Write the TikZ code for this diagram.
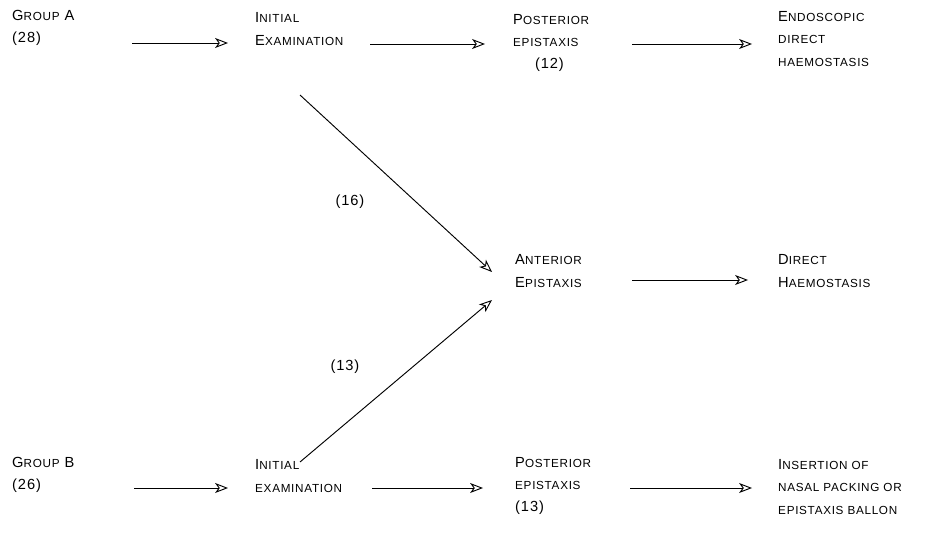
\documentclass[tikz,border=0pt]{standalone}
\usepackage{fontspec}
\setmainfont{Liberation Sans}[LetterSpace=6]
\usetikzlibrary{arrows.meta, calc}

% first letter large, the rest in smaller capitals
\newcommand\capsm[2]{#1{\fontsize{10}{12}\selectfont #2}}

\begin{document}
\begin{tikzpicture}[
  x=0.03cm, y=-0.03cm,
  lbl/.style={anchor=west, inner sep=0pt, align=left,
              font=\fontsize{12.5}{19}\selectfont},
  num/.style={inner sep=0pt, font=\fontsize{12.5}{19}\selectfont},
  arr/.style={-{Stealth[open, length=11pt, width=8.5pt, inset=3pt]}, line width=0.8pt}
]
  \useasboundingbox (0,0) rectangle (933,539);

  % top row: group A
  \node[lbl] (grpA) at (12,28) {\capsm{G}{ROUP} A\\(28)};
  \node[lbl] (initA) at (255,29) {\capsm{I}{NITIAL}\\\capsm{E}{XAMINATION}};
  \node[lbl] (postA) at (513,43) {\capsm{P}{OSTERIOR}\\\capsm{}{EPISTAXIS}\\\hspace*{1.5em}(12)};
  \node[lbl] (endo) at (778,39) {\capsm{E}{NDOSCOPIC}\\\capsm{}{DIRECT}\\\capsm{}{HAEMOSTASIS}};

  % middle row
  \node[lbl] (antE) at (515,271) {\capsm{A}{NTERIOR}\\\capsm{E}{PISTAXIS}};
  \node[lbl] (dirH) at (778,271) {\capsm{D}{IRECT}\\\capsm{H}{AEMOSTASIS}};

  % bottom row: group B
  \node[lbl] (grpB) at (12,475) {\capsm{G}{ROUP} B\\(26)};
  \node[lbl] (initB) at (255,476) {\capsm{I}{NITIAL}\\\capsm{}{EXAMINATION}};
  \node[lbl] (postB) at (515,486) {\capsm{P}{OSTERIOR}\\\capsm{}{EPISTAXIS}\\(13)};
  \node[lbl] (insB) at (778,487) {\capsm{I}{NSERTION OF}\\\capsm{}{NASAL PACKING OR}\\\capsm{}{EPISTAXIS BALLON}};

  % counts on the diagonals
  \node[num] (n16) at (350,202) {(16)};
  \node[num] (n13) at (345,367) {(13)};

  \draw[arr] ($(grpA.west)+(120,15)$) -- ($(initA.west)+(-27,14)$);
  \draw[arr] ($(initA.west)+(115,15)$) -- ($(postA.west)+(-28,1)$);
  \draw[arr] ($(postA.west)+(119,1)$) -- ($(endo.west)+(-26,5)$);
  \draw[arr] ($(initA.west)+(45,66)$) -- ($(antE.west)+(-23,1)$);
  \draw[arr] ($(initB.west)+(45,-14)$) -- ($(antE.west)+(-23,29)$);
  \draw[arr] ($(antE.west)+(117,9)$) -- ($(dirH.west)+(-30,9)$);
  \draw[arr] ($(grpB.west)+(122,13)$) -- ($(initB.west)+(-27,12)$);
  \draw[arr] ($(initB.west)+(117,12)$) -- ($(postB.west)+(-32,2)$);
  \draw[arr] ($(postB.west)+(115,2)$) -- ($(insB.west)+(-26,1)$);
\end{tikzpicture}
\end{document}
